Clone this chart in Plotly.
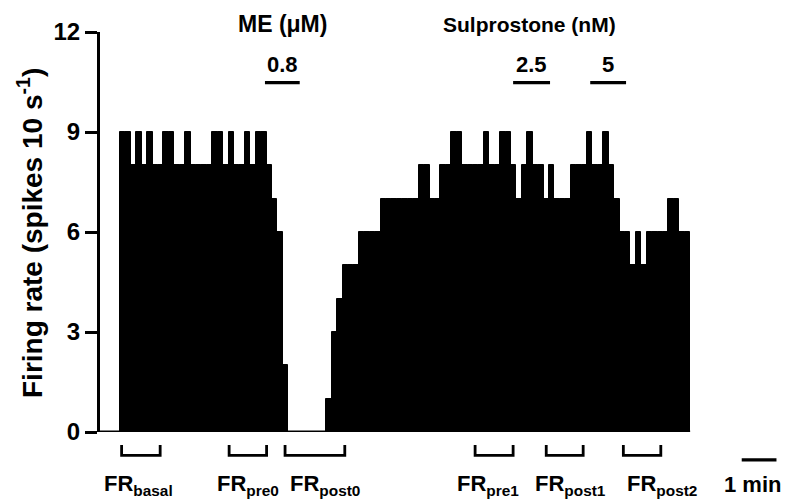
import plotly.graph_objects as go

# ---- data (10-s bins) ----
firing_rate = [
    9, 9, 8, 9, 8, 9, 8, 8, 9, 9,
    8, 8, 9, 8, 8, 8, 8, 9, 9, 8,
    9, 8, 8, 9, 8, 9, 9, 8, 7, 6,
    2, 0, 0, 0, 0, 0, 0, 0, 1, 3,
    4, 5, 5, 5, 6, 6, 6, 6, 7, 7,
    7, 7, 7, 7, 7, 8, 8, 7, 7, 8,
    8, 9, 9, 8, 8, 8, 8, 9, 8, 8,
    9, 9, 8, 7, 8, 9, 8, 8, 7, 8,
    7, 7, 7, 8, 8, 8, 9, 8, 8, 9,
    8, 7, 6, 6, 5, 6, 5, 6, 6, 6,
    6, 7, 7, 6, 6,
]
bins = [i + 0.5 for i in range(len(firing_rate))]

y_ticks = [0, 3, 6, 9, 12]

group_titles = ["ME (μM)", "Sulprostone (nM)"]
group_centers = [29.9, 75.5]
group_font_sizes = [23, 21]

drug_labels = ["0.8", "2.5", "5"]
drug_start = [26.7, 72.4, 86.6]
drug_end = [33.1, 79.2, 93.2]

window_names = ["basal", "pre0", "post0", "pre1", "post1", "post2"]
window_start = [0.3, 20.1, 30.4, 65.4, 78.5, 92.7]
window_end = [7.4, 27.0, 41.4, 72.4, 85.3, 99.6]
window_label_x = [3.5, 23.5, 37.8, 67.7, 82.9, 99.8]

scale_start, scale_end = 114.5, 120.9  # 1 min = 6 bins

FONT = "Liberation Sans, Arial, sans-serif"
X_RANGE = [-3.68, 122.47]

fig = go.Figure()
fig.add_trace(go.Bar(
    x=bins, y=firing_rate, width=1.0,
    marker=dict(color="black", line=dict(width=1, color="black")),
    hoverinfo="skip",
))

shapes = []
# x axis line
shapes.append(dict(type="line", xref="x", yref="y", x0=X_RANGE[0], x1=len(firing_rate),
                   y0=0, y1=0, line=dict(color="black", width=3)))
# drug application bars
for s, e in zip(drug_start, drug_end):
    shapes.append(dict(type="line", xref="x", yref="y", x0=s, x1=e, y0=10.48, y1=10.48,
                       line=dict(color="black", width=3.2)))
# analysis window brackets
for s, e in zip(window_start, window_end):
    shapes.append(dict(type="path", xref="x", yref="paper",
                       path=f"M {s},-0.0323 L {s},-0.0585 L {e},-0.0585 L {e},-0.0323",
                       line=dict(color="black", width=2.8)))
# scale bar
shapes.append(dict(type="line", xref="x", yref="paper", x0=scale_start, x1=scale_end,
                   y0=-0.0697, y1=-0.0697, line=dict(color="black", width=3.2)))

annotations = []
annotations.append(dict(text="<b>Firing rate (spikes 10 s<sup>-1</sup>)</b>", xref="paper", yref="paper",
                        x=-0.1022, y=0.4975, textangle=-90, showarrow=False,
                        xanchor="center", yanchor="middle",
                        font=dict(family=FONT, size=28, color="black")))
for t, c, fs in zip(group_titles, group_centers, group_font_sizes):
    annotations.append(dict(text=f"<b>{t}</b>", xref="x", yref="paper", x=c, y=1.0199,
                            showarrow=False, xanchor="center", yanchor="middle",
                            font=dict(family=FONT, size=fs, color="black")))
for t, s, e in zip(drug_labels, drug_start, drug_end):
    annotations.append(dict(text=f"<b>{t}</b>", xref="x", yref="y", x=(s + e) / 2, y=11.04,
                            showarrow=False, xanchor="center", yanchor="middle",
                            font=dict(family=FONT, size=22, color="black")))
for n, xc in zip(window_names, window_label_x):
    annotations.append(dict(text=f"<b>FR<sub>{n}</sub></b>", xref="x", yref="paper", x=xc, y=-0.132,
                            showarrow=False, xanchor="center", yanchor="middle",
                            font=dict(family=FONT, size=22, color="black")))
annotations.append(dict(text="<b>1 min</b>", xref="x", yref="paper", x=116.5, y=-0.132,
                        showarrow=False, xanchor="center", yanchor="middle",
                        font=dict(family=FONT, size=22, color="black")))

# The page body adds an 8 px offset, so the figure is 8 px smaller than the window.
fig.update_layout(
    width=787, height=491,
    margin=dict(l=92, r=10, t=22, b=67),
    paper_bgcolor="white", plot_bgcolor="white",
    showlegend=False, bargap=0,
    xaxis=dict(range=X_RANGE, visible=False, fixedrange=True),
    yaxis=dict(range=[0, 12], tickvals=y_ticks, ticks="outside", ticklen=12, tickwidth=2.5,
               tickcolor="black", showline=True, linecolor="black", linewidth=3,
               showgrid=False, zeroline=False, fixedrange=True,
               tickfont=dict(family=FONT, size=24, color="black", weight="bold")),
    shapes=shapes, annotations=annotations,
)

fig.write_html("out.html")
